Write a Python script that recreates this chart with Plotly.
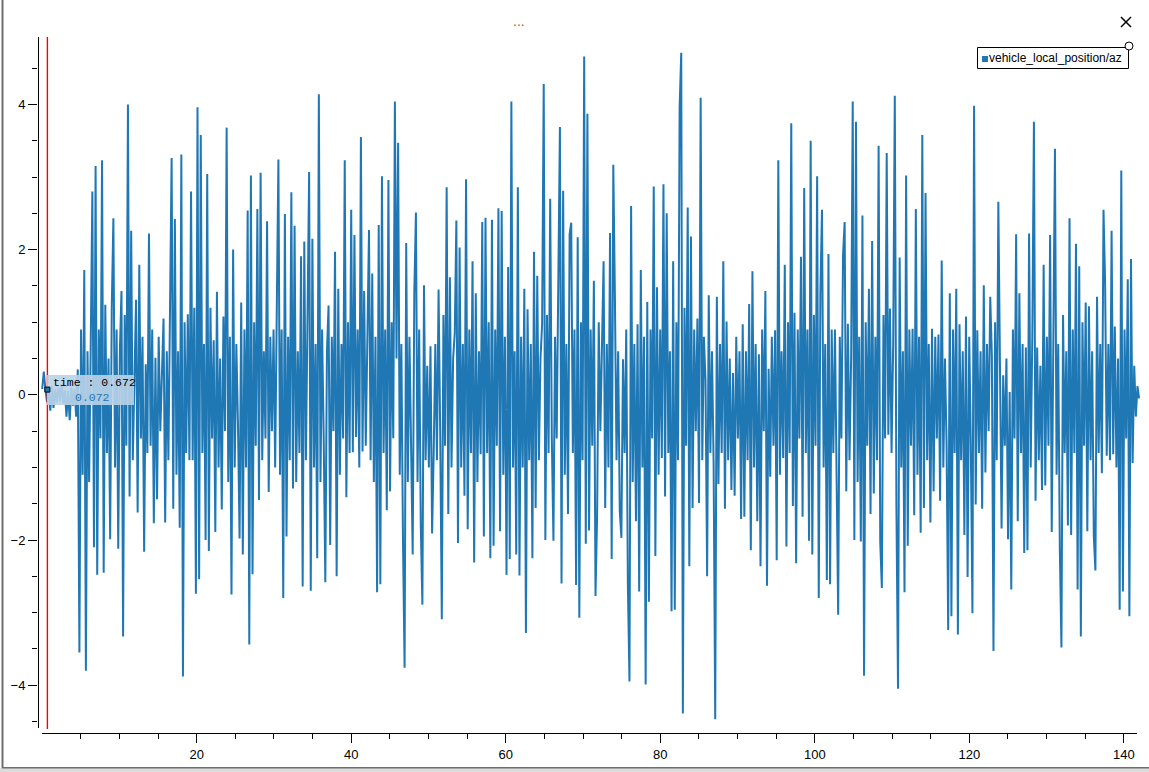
import plotly.graph_objects as go

# vehicle_local_position/az, one sample every DT seconds from T0
T0 = 0.0
DT = 0.2094
AZ = [
    0.08, 0.32, 0.07, -0.10, 0.05, -0.22, 0.12, -0.18, 0.08, -0.10, 0.10, -0.08, 0.15, -0.12, 0.06, -0.30,
    0.05, -0.35, 0.10, -0.15, 0.08, -0.30, 0.35, -3.55, 0.90, -1.10, 1.72, -3.80, 0.60, -1.20, 0.70, 2.80,
    -2.10, 3.15, -2.48, 0.90, -0.60, 3.23, -2.45, 1.24, -0.80, 0.50, -1.99, 1.20, 2.43, -1.00, 0.90, -2.12,
    0.60, 1.43, -3.33, 1.10, -0.70, 4.00, -1.40, 2.26, -0.90, 0.40, 1.31, -1.62, 1.79, -0.60, 0.80, -2.16,
    0.42, -0.80, 2.22, -0.70, 0.90, -1.77, 0.51, -1.44, 0.80, -0.50, 0.30, 1.05, -1.76, 0.60, -0.90, 0.97,
    3.26, -1.57, 2.42, -1.10, 0.60, -1.83, 3.31, -3.88, 1.00, -0.80, 1.11, -0.90, 2.80, -0.90, 1.20, -2.74,
    3.96, -2.54, 3.58, -0.80, 0.70, -2.00, 3.04, -2.15, 1.20, -0.60, 0.75, -1.89, 1.42, -1.00, 0.50, -1.58,
    1.08, -0.50, 3.68, -1.20, 0.80, -2.75, 2.00, -1.00, 0.70, -0.40, -1.98, 1.27, -2.20, 0.90, -1.00, 2.54,
    -3.44, 3.02, -2.47, 1.00, -0.70, 2.56, -1.45, 3.06, -0.90, 0.60, -0.60, 2.39, -1.34, 0.80, -0.50, 0.90,
    -1.00, 1.20, 3.24, -1.10, 0.90, -2.80, 2.49, -1.95, 0.80, -0.90, 2.79, -1.29, 2.33, -1.20, 0.60, -0.80,
    1.91, -2.64, 2.11, -0.90, 0.80, 3.07, -2.70, 2.15, -1.00, 0.70, -2.25, 4.14, -1.20, 0.90, -0.60, -2.58,
    0.60, 1.23, -2.07, 0.80, -0.50, 1.97, -2.50, 1.46, -1.10, 0.70, -0.60, 3.23, -1.41, 1.00, -0.80, 2.55,
    -0.79, 2.20, -0.58, 0.90, -1.00, 3.55, -0.78, 1.43, -0.70, 0.60, 2.27, -0.90, 1.67, -1.20, 0.80, -2.72,
    2.34, -2.61, 3.01, -0.80, 0.90, -1.59, 2.96, -1.33, 1.00, -0.60, 4.04, 0.50, 3.47, -1.10, 0.70, -2.00,
    -3.76, 2.09, -1.20, 0.80, -0.60, -2.20, 1.40, 2.51, -1.20, 0.90, -1.79, -2.89, 1.51, -0.90, 0.40, -1.00,
    0.67, -1.91, -0.78, 0.70, -0.90, 1.45, -0.50, -3.09, 1.10, -0.70, 2.86, -1.64, 1.62, -1.00, 0.50, 0.85,
    2.40, -2.04, 2.03, -1.00, 0.70, -1.39, 2.97, -1.85, 0.90, -0.80, 1.84, -2.31, 1.40, -1.20, 0.60, -0.82,
    2.38, -1.95, 2.44, -0.80, 1.00, -2.25, 2.41, -2.08, 0.90, -0.70, 2.57, -1.88, 2.53, -1.10, 0.80, -2.48,
    1.76, -2.26, 4.04, -1.00, 0.60, -2.20, 2.86, -2.49, 0.80, -1.00, 1.46, -3.28, 1.18, -0.90, 0.70, -2.25,
    1.97, -1.56, 1.64, -0.90, 0.50, 0.97, 4.28, -2.00, 1.10, -0.80, 2.70, -0.60, -2.01, 0.80, -0.60, 1.68,
    3.69, -2.60, 2.81, -1.10, 0.70, -1.64, 2.21, 2.37, -0.80, 0.90, -2.62, 2.17, -3.07, 1.00, -0.90, 4.66,
    -2.05, 3.87, -1.87, 0.90, -0.70, 1.57, -2.77, -1.65, 1.00, -0.50, 0.80, 1.84, -1.56, 0.70, -1.00, 2.23,
    -2.26, 3.17, 1.35, -0.90, 0.60, -1.60, -1.97, 0.49, -0.80, 0.90, -2.61, -3.95, 2.60, -1.20, 0.70, -1.74,
    0.97, -2.71, 1.72, -1.00, 0.80, -3.99, 1.28, -2.85, 0.90, -0.60, 2.87, -2.22, 1.48, -1.10, 0.90, -0.87,
    2.90, -1.40, 2.50, -0.80, 0.60, -2.98, 1.84, -2.96, 1.00, -0.90, 3.96, 4.71, -4.39, 1.20, -0.70, 2.58,
    -2.36, 2.18, -1.56, 0.90, -0.50, 1.05, -1.49, 4.09, -0.90, 0.80, 0.20, -2.50, 1.37, -0.80, 0.60, -0.93,
    -4.47, 1.35, -1.23, 0.70, -0.80, 1.84, -1.57, 1.01, -0.90, 0.50, -1.31, 0.30, -1.39, 0.80, -0.60, 0.60,
    -1.71, 0.97, -1.68, 0.60, -0.90, 1.25, -2.14, 1.70, -1.00, 0.70, -1.74, 0.56, -2.36, 0.90, -0.50, 1.43,
    -2.63, 0.36, -1.13, 0.80, -0.70, 0.89, -2.28, 3.23, -1.10, 0.60, -0.87, 1.79, -2.09, 1.00, -0.80, 3.74,
    -1.53, 1.13, -2.32, 0.90, -0.60, 1.90, -1.68, 2.85, -0.80, 0.90, -2.01, 3.50, -2.20, 1.10, -0.70, 3.01,
    -2.80, 1.41, 2.55, -1.00, 0.70, -2.55, 1.94, -2.61, 0.90, -0.80, 0.90, -1.52, -3.03, 0.80, -0.60, 1.92,
    2.38, -1.33, 0.98, -0.90, 0.50, 4.04, -2.00, 3.76, -1.20, 0.80, -2.02, 2.47, -3.87, 1.00, -0.70, 1.46,
    -1.64, 2.12, -1.36, 0.80, -0.90, 3.43, -2.03, -2.66, 1.10, -0.60, 3.33, -0.55, 1.19, -0.80, 0.70, 4.12,
    -1.54, -4.05, 1.89, -1.00, 0.60, -2.72, 3.02, -2.08, 0.90, -0.70, 0.91, -1.66, 2.56, -1.10, 0.80, -1.90,
    3.58, -1.56, 2.78, -0.90, 0.70, -1.76, 0.91, -1.33, 0.80, -0.60, 0.83, -1.46, 1.85, -1.00, 0.50, -0.66,
    -3.24, 1.40, -3.05, 0.90, -0.80, 1.46, -3.30, 0.97, -0.90, 0.60, -1.93, 1.08, -2.51, 0.80, -0.70, -3.01,
    3.98, -1.51, 0.89, -0.80, 0.60, -1.57, 1.51, -1.07, 0.70, -0.50, 1.35, 0.54, -3.53, 1.00, -0.90, 2.66,
    0.75, -1.84, 0.27, -0.70, 0.50, -1.99, 0.04, -2.68, 0.90, -0.60, 2.21, -1.74, 1.40, -0.80, 0.70, -2.18,
    0.65, -2.14, 2.22, -1.00, 0.80, 3.76, -1.46, 0.65, -0.90, 0.40, -1.31, 1.79, -1.25, 0.80, -0.70, 2.20,
    -1.89, 1.10, 3.39, -1.10, 0.70, -2.11, -3.48, 1.10, -0.80, 0.60, -1.80, 2.43, -1.93, 0.90, -0.80, 2.08,
    -2.68, 1.77, -3.33, 1.00, -0.70, 1.27, -1.88, 1.22, -0.90, 0.60, -1.94, -2.42, 1.35, -0.80, 0.70, -1.08,
    2.55, 1.54, -0.84, 0.70, -0.90, 2.26, -0.82, 0.94, -1.00, 0.50, -2.96, 3.09, -2.71, 0.90, -0.60, 1.59,
    -3.05, 1.87, -0.94, 0.40, -0.30, 0.12, -0.05,
]
SERIES_NAME = "vehicle_local_position/az"

X_TICKS = [20, 40, 60, 80, 100, 120, 140]
X_MINOR = [v for v in range(5, 145, 5) if v % 20]
Y_TICKS = [-4, -2, 0, 2, 4]
X_RANGE = [-0.544, 142.35]
Y_RANGE = [-4.658, 4.942]

# tracker cursor
CURSOR_TIME = 0.672
CURSOR_VALUE = 0.072

BLUE = "#1f77b4"
W, H = 1149, 772
L, R, T, B = 38, 7, 36, 39
PW, PH = W - L - R, H - T - B


def px(x):
    """screen pixel x -> paper x"""
    return (x - L) / PW


def py(y):
    """screen pixel y -> paper y"""
    return (H - B - y) / PH


def line(x0, y0, x1, y1, color="black", width=1):
    return dict(type="line", xref="paper", yref="paper", x0=px(x0), y0=py(y0),
                x1=px(x1), y1=py(y1), line=dict(color=color, width=width), layer="above")


def rect(x0, y0, x1, y1, fill, edge=None, kind="rect"):
    return dict(type=kind, xref="paper", yref="paper", x0=px(x0), y0=py(y1),
                x1=px(x1), y1=py(y0), fillcolor=fill, layer="above",
                line=dict(color=edge or fill, width=1 if edge else 0))


fig = go.Figure(go.Scatter(
    y=AZ, x0=T0, dx=DT, mode="lines", name=SERIES_NAME,
    line=dict(color=BLUE, width=2), showlegend=False, hoverinfo="skip",
))

tick_font = dict(family="Liberation Sans, Arial, sans-serif", size=13, color="black")
fig.update_layout(
    width=W, height=H,
    margin=dict(l=L, r=R, t=T, b=B),
    paper_bgcolor="white", plot_bgcolor="white",
    showlegend=False,
    xaxis=dict(
        range=X_RANGE, showgrid=False, zeroline=False, showline=False,
        tickmode="array", tickvals=X_TICKS, ticks="outside", ticklen=9,
        tickcolor="black", tickfont=tick_font,
        minor=dict(tickmode="array", tickvals=X_MINOR, ticks="outside",
                   ticklen=5, tickcolor="black", showgrid=False),
    ),
    yaxis=dict(
        range=Y_RANGE, showgrid=False, zeroline=False, showline=False,
        tickmode="array", tickvals=Y_TICKS, ticks="outside", ticklen=9,
        tickcolor="black", tickfont=tick_font,
        minor=dict(dtick=0.5, tick0=0, ticks="outside", ticklen=5,
                   tickcolor="black", showgrid=False),
    ),
)

shapes = [
    # axis backbones (offset like the original widget)
    line(38.5, 37, 38.5, 728),
    line(42, 733.5, 1137, 733.5),
    # red time tracker
    dict(type="line", xref="x", yref="paper", x0=CURSOR_TIME, x1=CURSOR_TIME,
         y0=py(729), y1=py(37), line=dict(color="#ff0000", width=1.4), layer="above"),
    # tracker tooltip
    rect(47, 375, 134, 405, "rgba(185,209,232,0.9)"),
    dict(type="rect", xref="x", yref="y", xsizemode="pixel", ysizemode="pixel",
         xanchor=CURSOR_TIME, yanchor=CURSOR_VALUE, x0=-2.5, x1=2.5, y0=-2.5, y1=2.5,
         fillcolor=BLUE, line=dict(color="black", width=1), layer="above"),
    # legend box
    rect(977.5, 47.5, 1128.5, 68.5, "white", "black"),
    rect(982, 56, 988, 62, BLUE),
    rect(1125, 42, 1133, 50, "white", "black", kind="circle"),
    # close button
    line(1121, 17, 1131, 27, width=1.5),
    line(1121, 27, 1131, 17, width=1.5),
    # window frame
    rect(0, 768, 1149, 772, "#dcdcdc"),
    line(2.5, 0, 2.5, 768, color="#6e6e6e", width=2),
    line(2, 767.8, 1149, 767.8, color="#6e6e6e", width=1.5),
]
fig.update_layout(shapes=shapes)

mono = "Liberation Mono, Courier New, monospace"
annotations = [
    dict(text=f"time : {CURSOR_TIME}", x=px(51), y=py(383), xanchor="left", yanchor="middle",
         font=dict(family=mono, size=11.5, color="black")),
    dict(text=f"{CURSOR_VALUE}", x=px(73), y=py(398), xanchor="left", yanchor="middle",
         font=dict(family=mono, size=11.5, color=BLUE)),
    dict(text=SERIES_NAME, x=px(987), y=py(58.5), xanchor="left", yanchor="middle",
         font=dict(family="Liberation Sans, Arial, sans-serif", size=12, color="black")),
    dict(text="...", x=px(519), y=py(21), xanchor="center", yanchor="middle",
         font=dict(family="Liberation Sans, Arial, sans-serif", size=14, color="#b0602a")),
]
for a in annotations:
    a.update(xref="paper", yref="paper", showarrow=False)
fig.update_layout(annotations=annotations)

# the page body has a default 8px margin; drop it so the figure fills the window
fig.write_html("out.html", config={"displayModeBar": False},
               post_script="document.body.style.margin='0';")
